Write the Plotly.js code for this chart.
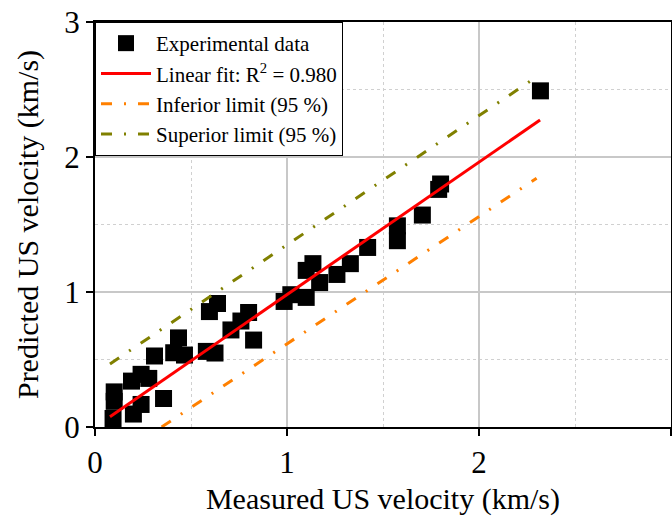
<!DOCTYPE html>
<html>
<head>
<meta charset="utf-8">
<script src="https://cdn.plot.ly/plotly-3.0.1.min.js"></script>
<style>html,body{margin:0;padding:0;background:#fff;}#chart{width:672px;height:516px;}</style>
</head>
<body>
<div id="chart"></div>
<script>
// Experimental data (measured vs predicted US velocity, km/s)
var measured = [0.094, 0.10, 0.10, 0.19, 0.24, 0.28, 0.20, 0.24, 0.31, 0.357, 0.435, 0.41, 0.466,
  0.596, 0.638, 0.58, 0.625, 0.708, 0.76, 0.80, 0.826, 0.985, 1.02, 1.10, 1.10, 1.135, 1.17,
  1.26, 1.33, 1.42, 1.575, 1.575, 1.705, 1.79, 1.80, 2.32];
var predicted = [0.063, 0.19, 0.26, 0.34, 0.39, 0.36, 0.096, 0.167, 0.526, 0.211, 0.66, 0.55, 0.533,
  0.855, 0.915, 0.56, 0.548, 0.719, 0.785, 0.848, 0.644, 0.93, 0.98, 0.96, 1.16, 1.21, 1.07,
  1.13, 1.21, 1.33, 1.38, 1.49, 1.57, 1.76, 1.80, 2.49];
// Linear fit endpoints
var fitX = [0.078, 2.318];
var fitY = [0.076, 2.274];
// Inferior limit (95 %)
var infX = [0.347, 2.30];
var infY = [0.0, 1.842];
// Superior limit (95 %)
var supX = [0.078, 2.27];
var supY = [0.467, 2.565];

var tickVals = [0, 1, 2, 3];
var tickText = ['0', '1', '2', '3'];

var FONT = "'Liberation Serif', 'Times New Roman', Times, serif";
var dashPat = '11px,12px,2px,12px';

var traces = [
  {x: measured, y: predicted, type: 'scatter', mode: 'markers', name: 'Experimental data',
   marker: {symbol: 'square', size: 17, color: '#000000'}, cliponaxis: false},
  {x: fitX, y: fitY, type: 'scatter', mode: 'lines', name: 'Linear fit: R<sup>2</sup> = 0.980',
   line: {color: '#ff0000', width: 3}},
  {x: infX, y: infY, type: 'scatter', mode: 'lines', name: 'Inferior limit (95 %)',
   line: {color: '#ff8000', width: 3, dash: dashPat}},
  {x: supX, y: supY, type: 'scatter', mode: 'lines', name: 'Superior limit (95 %)',
   line: {color: '#808000', width: 3, dash: dashPat}}
];

var axisCommon = {
  range: [0, 3], tickvals: tickVals, ticktext: tickText,
  showline: true, linecolor: '#000', linewidth: 2, mirror: true,
  ticks: 'outside', ticklen: 7, tickwidth: 2, tickcolor: '#000',
  showgrid: true, gridcolor: '#c8c8c8', gridwidth: 2, zeroline: false,
  tickfont: {family: FONT, size: 31, color: '#000'},
  minor: {dtick: 0.5, showgrid: true, gridcolor: '#d0d0d0', gridwidth: 1, griddash: 'dot', ticks: ''}
};

var layout = {
  width: 672, height: 516,
  margin: {l: 95, r: 1, t: 22, b: 89},
  paper_bgcolor: '#fff', plot_bgcolor: '#fff',
  font: {family: FONT, color: '#000'},
  showlegend: true,
  legend: {x: 0, y: 1, xanchor: 'left', yanchor: 'top', bgcolor: '#fff',
    bordercolor: '#000', borderwidth: 1, font: {family: FONT, size: 21, color: '#000'},
    itemwidth: 50, tracegroupgap: 0},
  xaxis: Object.assign({}, axisCommon, {
    title: {text: 'Measured US velocity (km/s)', font: {family: FONT, size: 30, color: '#000'}, standoff: 18}
  }),
  yaxis: Object.assign({}, axisCommon, {
    title: {text: 'Predicted US velocity (km/s)', font: {family: FONT, size: 30, color: '#000'}, standoff: 17}
  })
};

Plotly.newPlot('chart', traces, layout, {displayModeBar: false, staticPlot: true});
</script>
</body>
</html>
